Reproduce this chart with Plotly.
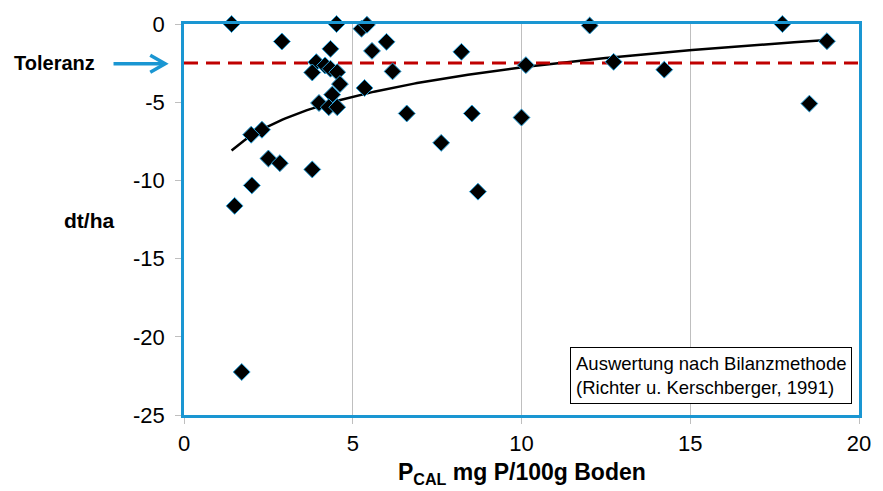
import numpy as np
import plotly.graph_objects as go

# Data (P_CAL mg P/100g Boden vs. dt/ha)
p_cal = [1.41, 4.52, 5.26, 5.42, 12.02, 17.73, 2.90, 6.00, 19.05, 4.34,
         5.57, 8.22, 3.92, 4.18, 10.13, 12.73, 4.34, 3.80, 4.54, 6.18,
         14.23, 4.62, 5.35, 4.39, 4.00, 4.29, 4.54, 18.53, 6.60, 8.53,
         10.00, 2.31, 1.99, 7.62, 2.50, 2.84, 3.80, 2.01, 8.71, 1.50, 1.71]
dt_ha = [0.0, 0.0, -0.30, -0.05, -0.10, 0.0, -1.12, -1.14, -1.10, -1.59,
         -1.72, -1.78, -2.44, -2.65, -2.63, -2.42, -2.86, -3.10, -3.08, -3.03,
         -2.92, -3.84, -4.09, -4.52, -5.05, -5.32, -5.32, -5.09, -5.72, -5.72,
         -5.98, -6.76, -7.08, -7.60, -8.60, -8.90, -9.30, -10.32, -10.72, -11.63, -22.25]
toleranz = -2.5
x_ticks = [0, 5, 10, 15, 20]
y_ticks = [0, -5, -10, -15, -20, -25]
y_ticktext = [str(v) for v in y_ticks]

# logarithmic trend line (least squares on ln x)
xa = np.array(p_cal)
ya = np.array(dt_ha)
a, b = np.polyfit(np.log(xa), ya, 1)
xt = np.linspace(xa.min(), xa.max(), 200)
yt = a * np.log(xt) + b

BLUE = "#1A96D2"
FONT = "Liberation Sans, Arial, sans-serif"

# plot area in page px: 184..864 (x), 22..415 (y)
L, T, PW, PH = 184, 22, 680, 393
W, H = 883, 491


def px(page_x):
    return (page_x - L) / PW


def py(page_y):
    return (T + PH - page_y) / PH


fig = go.Figure()
fig.add_trace(go.Scatter(x=xt, y=yt, mode="lines",
                         line=dict(color="black", width=2.5),
                         hoverinfo="skip", showlegend=False))
fig.add_trace(go.Scatter(x=[0, 20], y=[toleranz, toleranz], mode="lines",
                         line=dict(color="#C00000", width=3, dash="14px,8px"),
                         hoverinfo="skip", showlegend=False))
fig.add_trace(go.Scatter(x=p_cal, y=dt_ha, mode="markers", cliponaxis=False,
                         marker=dict(symbol="diamond", size=13, color="black",
                                     line=dict(color="#2AA3DD", width=1)),
                         showlegend=False))

# arrow pointing at the tolerance line
ty = py(62)
dy = 8.5 / PH
fig.add_shape(type="line", xref="paper", yref="paper", x0=px(113), x1=px(163),
              y0=ty, y1=ty, line=dict(color=BLUE, width=3.5))
fig.add_shape(type="path", xref="paper", yref="paper",
              path=f"M {px(150)} {ty + dy} L {px(165)} {ty} L {px(150)} {ty - dy}",
              line=dict(color=BLUE, width=3.5))

fig.update_layout(
    width=W, height=H,
    margin=dict(l=L, r=W - L - PW, t=T, b=H - T - PH),
    plot_bgcolor="white", paper_bgcolor="white",
    font=dict(family=FONT, color="black", size=22),
    xaxis=dict(range=[0, 20], tickvals=x_ticks, showgrid=True, gridcolor="#BFBFBF",
               gridwidth=1, showline=True, linecolor=BLUE, linewidth=2.5, mirror=True,
               ticks="outside", ticklen=6, tickcolor="#BFBFBF", zeroline=False,
               ticklabelstandoff=1, tickfont=dict(size=22)),
    yaxis=dict(range=[-25, 0], tickvals=y_ticks, ticktext=y_ticktext, showgrid=False,
               showline=True, linecolor=BLUE, linewidth=2.5, mirror=True,
               ticks="outside", ticklen=6, tickcolor="#BFBFBF", zeroline=False,
               ticklabelstandoff=6, tickfont=dict(size=22)),
    annotations=[
        dict(xref="paper", yref="paper", x=0.5, xanchor="center", y=py(474),
             yanchor="middle", text="<b>P<sub>CAL</sub> mg P/100g Boden</b>",
             showarrow=False, font=dict(size=23)),
        dict(xref="paper", yref="paper", x=px(88), xanchor="center", y=py(220),
             yanchor="middle", text="<b>dt/ha</b>", showarrow=False,
             font=dict(size=21)),
        dict(xref="paper", yref="paper", x=px(54), xanchor="center", y=py(61),
             yanchor="middle", text="<b>Toleranz</b>", showarrow=False,
             font=dict(size=20)),
        dict(xref="paper", yref="paper", x=px(857), y=py(404), xanchor="right",
             yanchor="bottom", align="left", showarrow=False,
             text="Auswertung nach Bilanzmethode<br>(Richter u. Kerschberger, 1991)",
             font=dict(size=18.5), bgcolor="white", bordercolor="black",
             borderwidth=1, borderpad=5),
    ],
)

fig.write_html(
    "out.html",
    config={"displayModeBar": False},
    post_script="document.body.style.margin='0';document.body.style.overflow='hidden';",
)
